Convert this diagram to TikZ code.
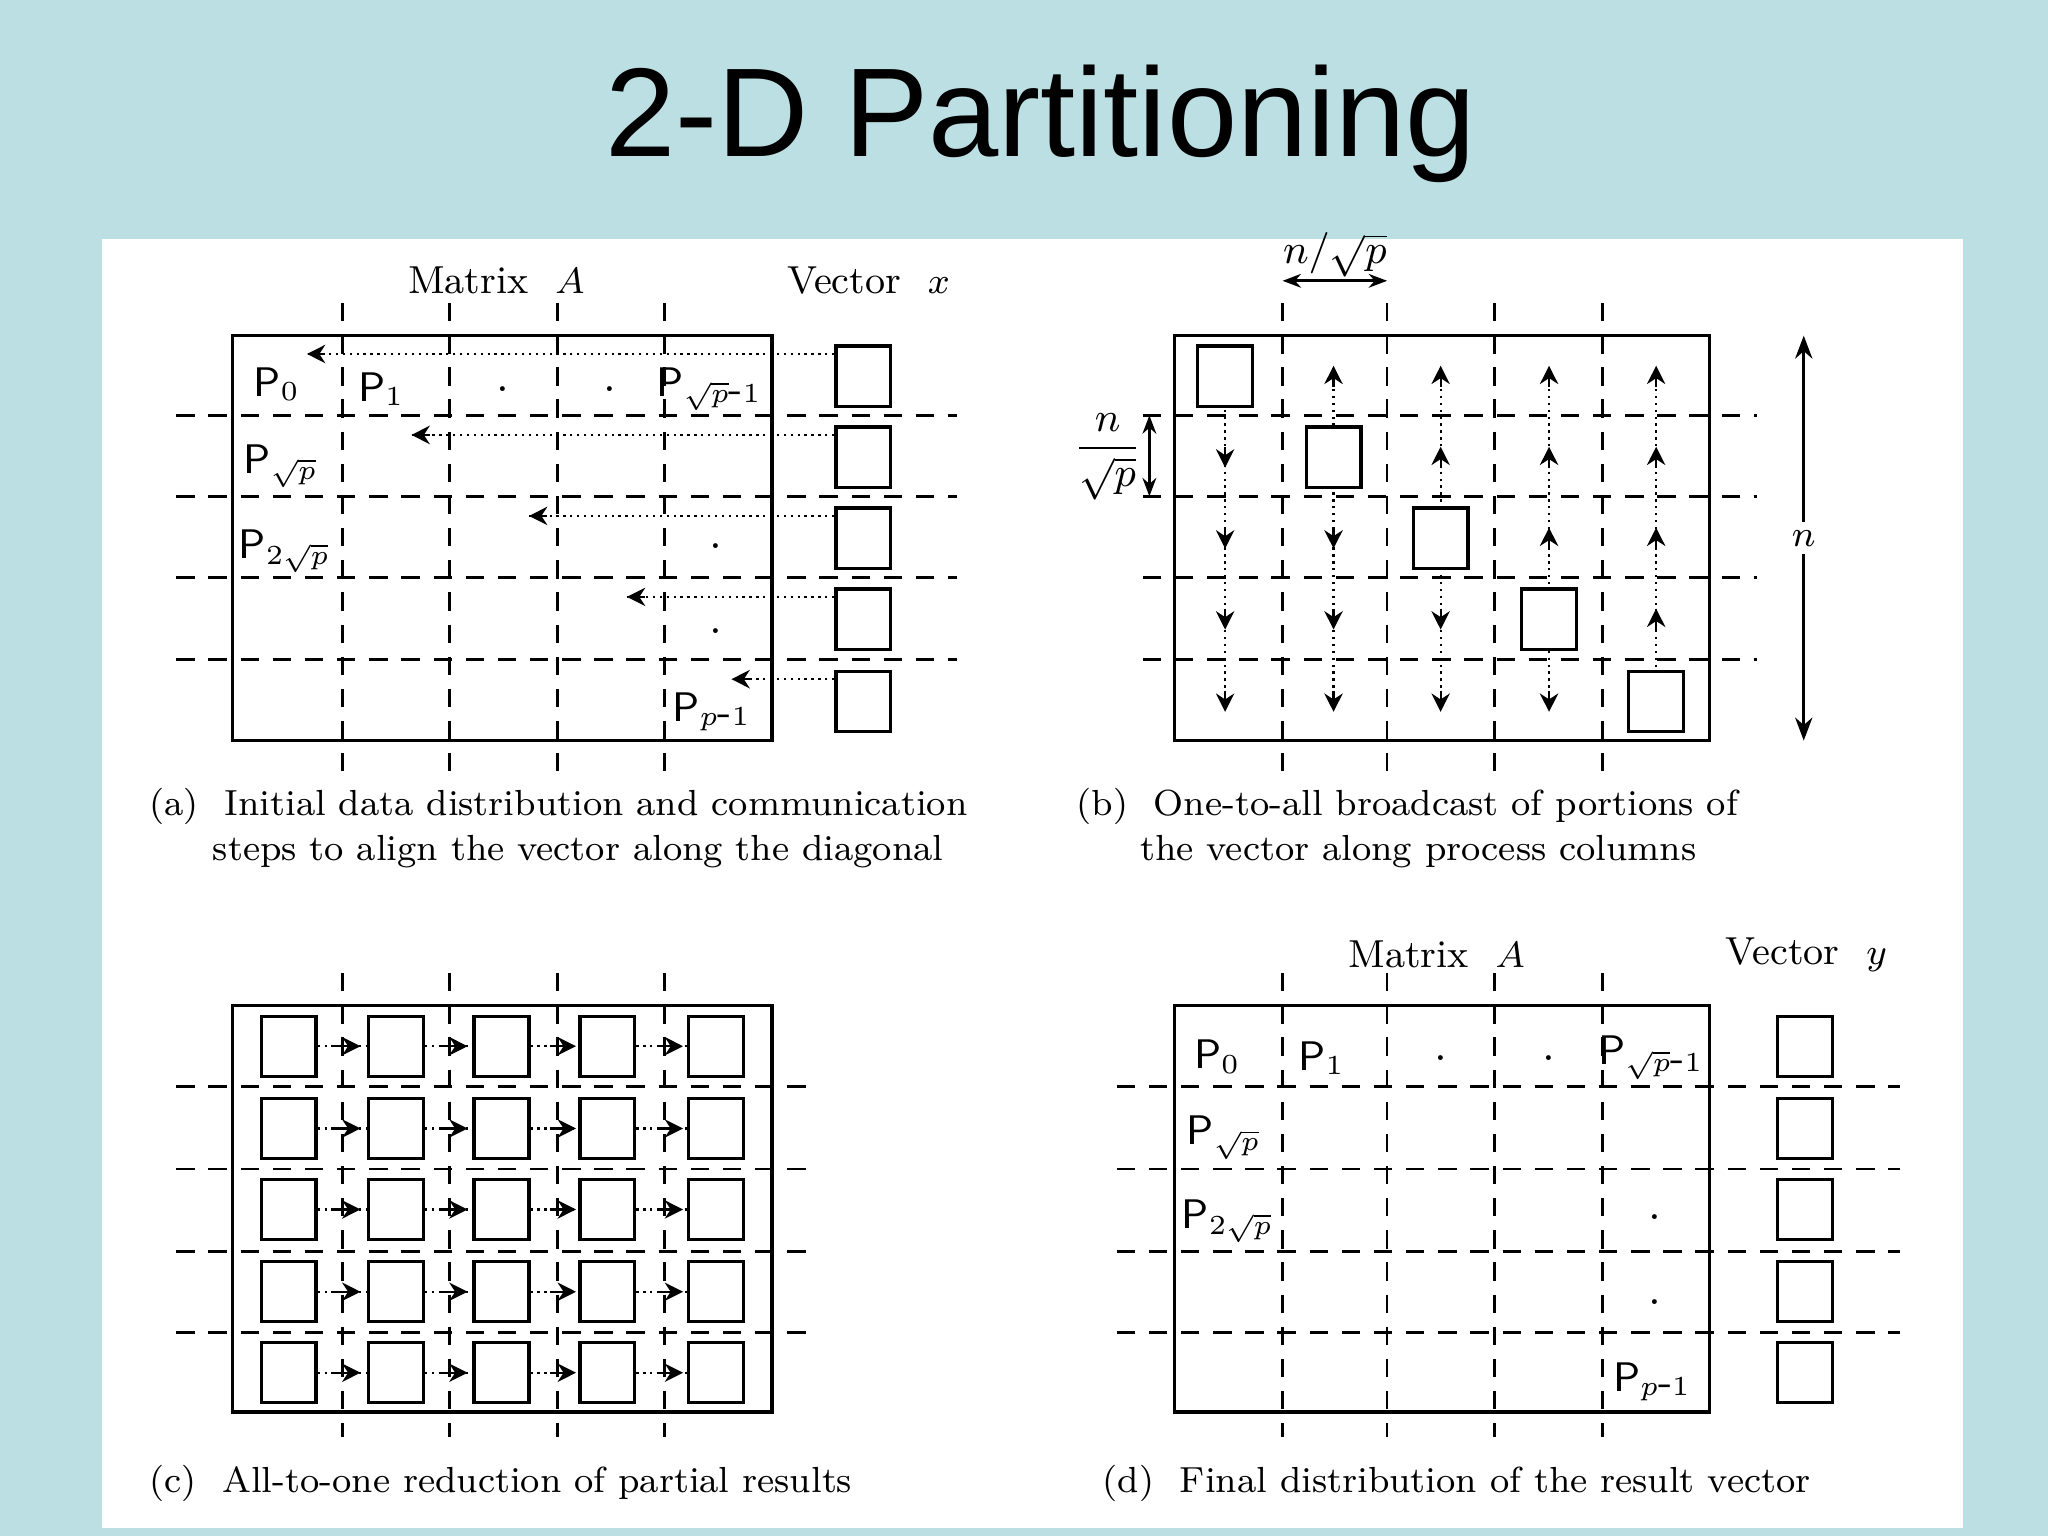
\documentclass[tikz,border=0pt]{standalone}
\usepackage{fontspec}
\newfontfamily\titlefont{Liberation Sans}
\usetikzlibrary{arrows.meta}
\definecolor{bgblue}{HTML}{BBDFE3}
\tikzset{
  grid/.style={dashed,line width=0.6pt,dash pattern=on 4pt off 3pt},
  frame/.style={draw,line width=0.7pt},
  cellbox/.style={draw,line width=0.7pt,minimum width=0.42cm,minimum height=0.46cm,inner sep=0pt},
  dots/.style={densely dotted,line width=0.5pt},
  tip/.style={-{Stealth[length=4pt,width=4pt]},line width=0.5pt},
  captxt/.style={font=\fontsize{7.9}{9.8}\selectfont,anchor=west,align=left},
  plab/.style={font=\sffamily\fontsize{9}{10}\selectfont,inner sep=0pt},
  hdr/.style={font=\fontsize{8.5}{10}\selectfont,inner sep=0pt}
}
\begin{document}
\begin{tikzpicture}[x=0.01cm,y=-0.01cm]
\fill[bgblue] (0,0) rectangle (1568,1176);
\fill[white] (78,183) rectangle (1503,1170);
\node[font=\titlefont\fontsize{27.5}{30}\selectfont] (title) at (797,95) {2-D Partitioning};

% ---------- (a)
\draw[frame] (178,257) rectangle (591,567);
\foreach \x in {262,344,427,509} \draw[grid] (\x,232) -- (\x,590);
\foreach \y in {318,380,442,505} \draw[grid] (135,\y) -- (733,\y);
\node[hdr] (ma) at (380,215) {Matrix \ $A$};
\node[hdr] (vx) at (665,215) {Vector \ $x$};
\foreach \i/\y/\t in {0/288/235,1/350/315,2/412/405,3/474/480,4/537/560}{
  \node[cellbox] (xa\i) at (661,\y) {};
  \coordinate (ta\i) at (\t,\y-17);
  \draw[dots] (xa\i.west) ++(0,-17) -- (ta\i);
  \draw[tip] (\t+14,\y-17) -- (ta\i);
}
\node[plab] (a00) at (212,294) {P$_0$};
\node[plab] (a01) at (292,298) {P$_1$};
\node (ad1) at (385,298) {.};
\node (ad2) at (467,298) {.};
\node[plab] (a04) at (543,298) {P$_{\sqrt{p}\mbox{-}1}$};
\node[plab] (a10) at (215,357) {P$_{\sqrt{p}}$};
\node[plab] (a20) at (218,422) {P$_{2\sqrt{p}}$};
\node (ad3) at (548,418) {.};
\node (ad4) at (548,483) {.};
\node[plab] (a44) at (545,545) {P$_{p\mbox{-}1}$};
\node[captxt] (capa) at (102,634) {(a)\ \ Initial data distribution and communication\\\hspace*{1.75em}steps to align the vector along the diagonal};

% ---------- (b)
\draw[frame] (899,257) rectangle (1309,567);
\foreach \x in {982,1062,1144,1227} \draw[grid] (\x,232) -- (\x,590);
\foreach \y in {318,380,442,505} \draw[grid] (875,\y) -- (1345,\y);
\foreach \j/\x in {0/938,1/1021,2/1103,3/1186,4/1268}{
  \draw[dots] (\x,282) -- (\x,545);
  \foreach \i/\y in {0/288,1/350,2/412,3/474,4/537}{
    \ifnum\i=\j
      \node[cellbox,fill=white] (bb\j) at (\x,\y) {};
    \else\ifnum\i<\j
      \draw[tip] (\x,\y+8) -- (\x,\y-8);
    \else
      \draw[tip] (\x,\y-8) -- (\x,\y+8);
    \fi\fi
  }
}
\node[font=\fontsize{9}{10}\selectfont] (nsp) at (1022,195) {$n/\sqrt{p}$};
\draw[{Stealth[length=4pt]}-{Stealth[length=4pt]},line width=0.6pt] (982,215) -- (1062,215);
\node[font=\fontsize{9}{10}\selectfont,inner sep=0pt] (nsp2) at (848,350) {$\displaystyle\frac{n}{\sqrt{p}}$};
\draw[{Stealth[length=4pt]}-{Stealth[length=4pt]},line width=0.6pt] (880,318) -- (880,380);
\node[font=\fontsize{8}{10}\selectfont] (nn) at (1381,412) {$n$};
\draw[{Stealth[length=5pt]}-,line width=0.7pt] (1381,257) -- (1381,400);
\draw[line width=0.7pt,-{Stealth[length=5pt]}] (1381,424) -- (1381,567);
\node[captxt] (capb) at (812,634) {(b)\ \ One-to-all broadcast of portions of\\\hspace*{1.75em}the vector along process columns};

% ---------- (c)
\draw[frame] (178,770) rectangle (591,1081);
\foreach \x in {262,344,427,509} \draw[grid] (\x,745) -- (\x,1100);
\foreach \y in {832,895,958,1020} \draw[grid] (135,\y) -- (625,\y);
\foreach \j/\x in {0/221,1/303,2/384,3/465,4/548}{
  \foreach \i/\y in {0/801,1/864,2/926,3/989,4/1051}{
    \node[cellbox,fill=white] (c\i\j) at (\x,\y) {};
  }
}
\foreach \i/\y in {0/801,1/864,2/926,3/989,4/1051}{
  \foreach \j/\k/\g in {0/1/262,1/2/344,2/3/427,3/4/509}{
    \draw[dots] (c\i\j.east) -- (c\i\k.west);
    \draw[tip] (\g-6,\y) -- (\g+14,\y);
  }
}
\node[captxt] (capc) at (102,1136) {(c)\ \ All-to-one reduction of partial results};

% ---------- (d)
\draw[frame] (899,770) rectangle (1309,1081);
\foreach \x in {982,1062,1144,1227} \draw[grid] (\x,745) -- (\x,1100);
\foreach \y in {832,895,958,1020} \draw[grid] (855,\y) -- (1455,\y);
\node[hdr] (md) at (1100,731) {Matrix \ $A$};
\node[hdr] (vy) at (1383,731) {Vector \ $y$};
\foreach \i/\y in {0/801,1/864,2/926,3/989,4/1051}{
  \node[cellbox,fill=white] (yd\i) at (1382,\y) {};
}
\node[plab] (d00) at (932,809) {P$_0$};
\node[plab] (d01) at (1012,810) {P$_1$};
\node (dd1) at (1103,810) {.};
\node (dd2) at (1186,810) {.};
\node[plab] (d04) at (1264,810) {P$_{\sqrt{p}\mbox{-}1}$};
\node[plab] (d10) at (937,871) {P$_{\sqrt{p}}$};
\node[plab] (d20) at (940,935) {P$_{2\sqrt{p}}$};
\node (dd3) at (1267,932) {.};
\node (dd4) at (1267,997) {.};
\node[plab] (d44) at (1265,1058) {P$_{p\mbox{-}1}$};
\node[captxt] (capd) at (832,1136) {(d)\ \ Final distribution of the result vector};
\end{tikzpicture}
\end{document}
